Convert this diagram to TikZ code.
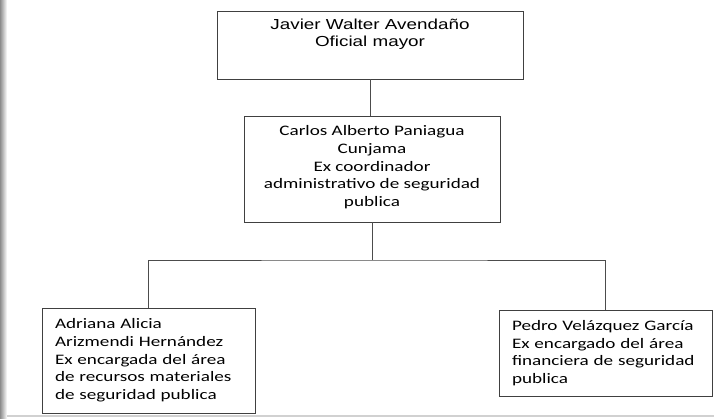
\documentclass[tikz,border=0pt]{standalone}
\usepackage{fontspec}
\setmainfont{Carlito}[FakeStretch=1.32]
\newfontfamily\arialfont{Liberation Sans}[FakeStretch=1.3]
\begin{document}
\begin{tikzpicture}[x=1pt,y=-1pt,
    caja/.style={draw=black!75, line width=0.9pt, inner sep=0pt,
      font=\fontsize{14.5}{17.7}\selectfont},
    linea/.style={draw=black!70, line width=0.8pt}]
  \useasboundingbox (0,0) rectangle (714,419);
  \shade[left color=black!45, right color=white] (0,0) rectangle (7,419);
  \fill[black!18] (7,414.5) rectangle (714,416.5);
  \node[caja, minimum width=306pt, minimum height=68pt, align=center,
    font=\arialfont\fontsize{14.5}{17}\selectfont, text depth=25pt]
    (jefe) at (370,45) {Javier Walter Avendaño\\Oficial mayor};
  \node[caja, minimum width=256pt, minimum height=106pt, align=center,
    text depth=6pt] (medio) at (372,169) {Carlos Alberto Paniagua\\Cunjama\\
    Ex coordinador\\administrativo de seguridad\\publica};
  \node[caja, minimum width=213pt, minimum height=105pt, text width=187pt,
    align=left] (izq) at (148.5,360.5) {Adriana Alicia\\Arizmendi Hernández\\
    Ex encargada del área\\de recursos materiales\\de seguridad publica};
  \node[caja, minimum width=213pt, minimum height=86pt, text width=187pt,
    align=left] (der) at (605.5,353) {Pedro Velázquez García\\
    Ex encargado del área\\financiera de seguridad\\publica};
  \coordinate (rama) at (medio.south |- 0,260);
  \draw[linea] (jefe.south) -- (jefe.south |- medio.north);
  \draw[linea] (medio.south) -- (rama);
  \draw[linea] (izq.north) |- (rama) -| (der.north);
\end{tikzpicture}
\end{document}
